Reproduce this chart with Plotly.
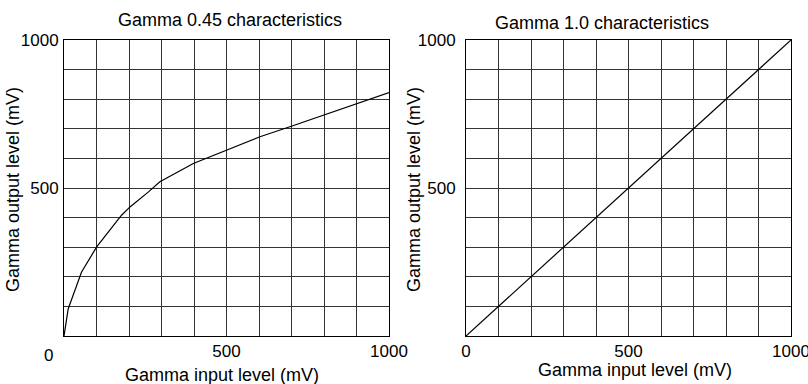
import plotly.graph_objects as go

# Data
gamma045_in = [0, 13, 54, 100, 177, 203, 259, 295, 398, 603, 695, 1000]
gamma045_out = [0, 92, 216, 300, 408, 436, 486, 521, 583, 673, 707, 822]
gamma10_in = [0, 1000]
gamma10_out = [0, 1000]

titles = ["Gamma 0.45 characteristics", "Gamma 1.0 characteristics"]
x_title = "Gamma input level (mV)"
y_title = "Gamma output level (mV)"
grid_vals = list(range(0, 1001, 100))

W, H = 808, 384
FONT = dict(family="Liberation Sans, Arial, Helvetica, sans-serif", size=18, color="black")
TICKFONT = dict(family="Liberation Sans, Arial, Helvetica, sans-serif", size=17, color="black")

fig = go.Figure()
fig.add_trace(go.Scatter(x=gamma045_in, y=gamma045_out, mode="lines",
                         line=dict(color="black", width=1.2), xaxis="x", yaxis="y",
                         showlegend=False, hoverinfo="skip"))
fig.add_trace(go.Scatter(x=gamma10_in, y=gamma10_out, mode="lines",
                         line=dict(color="black", width=1.2), xaxis="x2", yaxis="y2",
                         showlegend=False, hoverinfo="skip"))

def px_x(p):
    return p / W

def px_y(p):
    return 1 - p / H

dom_y = [px_y(336), px_y(40)]
axis_common = dict(range=[0, 1000], showgrid=False,
                   showline=True, linecolor="black", linewidth=1, mirror=True,
                   zeroline=False, ticks="", tickfont=TICKFONT, fixedrange=True,
                   automargin=False, tickmode="array", ticklabeloverflow="allow",
                   minor=dict(tickvals=grid_vals, showgrid=True, gridcolor="#333", gridwidth=1))

fig.update_layout(
    width=W, height=H, margin=dict(l=0, r=0, t=0, b=0, autoexpand=False),
    paper_bgcolor="white", plot_bgcolor="white", font=FONT,
    xaxis=dict(domain=[px_x(64), px_x(389)], anchor="y", tickvals=[500, 1000],
               ticktext=["500", "1000"], ticklabelstandoff=0, **axis_common),
    yaxis=dict(domain=dom_y, anchor="x", tickvals=[500, 1000],
               ticktext=["500", "1000"], ticklabelstandoff=1, **axis_common),
    xaxis2=dict(domain=[px_x(466), px_x(791)], anchor="y2", tickvals=[0, 500, 1000],
                ticktext=["0", "500", "1000"], ticklabelstandoff=0, **axis_common),
    yaxis2=dict(domain=dom_y, anchor="x2", tickvals=[500, 1000],
                ticktext=["500", "1000"], ticklabelstandoff=6, **axis_common),
)

def ann(text, x, y, **kw):
    d = dict(text=text, x=px_x(x), y=px_y(y), xref="paper", yref="paper",
             xanchor="center", yanchor="middle", showarrow=False, font=FONT)
    d.update(kw)
    return d

annotations = [
    ann(titles[0], 230, 20),
    ann(titles[1], 602, 23),
    ann(x_title, 222, 375),
    ann(x_title, 635, 370),
    ann(y_title, 13, 190, textangle=-90),
    ann(y_title, 414, 190, textangle=-90),
    dict(text="0", x=0, y=px_y(355), xref="x", yref="paper", xshift=-16,
         xanchor="center", yanchor="middle", showarrow=False, font=TICKFONT),
]
fig.update_layout(annotations=annotations)

fig.write_html("out.html")
